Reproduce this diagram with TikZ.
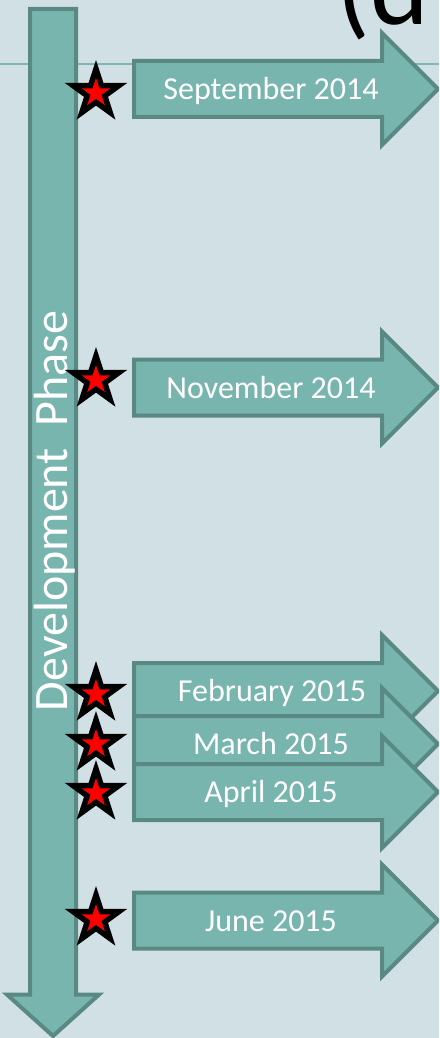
\documentclass[tikz,border=0pt]{standalone}
\usepackage{fontspec}
\setmainfont{Carlito}
\usepackage{tikz}
\usetikzlibrary{shapes.arrows, shapes.geometric}
\definecolor{bg}{RGB}{209,224,228}
\definecolor{tealfill}{RGB}{120,181,175}
\definecolor{tealedge}{RGB}{90,137,131}
\definecolor{rule}{RGB}{125,183,178}
\tikzstyle{month} = [single arrow, fill=tealfill, draw=tealedge, line width=4pt, inner sep=26pt, single arrow head extend=28pt, single arrow tip angle=90, minimum height=304pt, anchor=tail]
\tikzstyle{phase} = [single arrow, shape border rotate=270, fill=tealfill, draw=tealedge, line width=4pt, inner sep=21pt, single arrow head extend=23pt, single arrow tip angle=96, minimum height=1027pt, anchor=tail]
\tikzstyle{date}=[text=white, font=\fontsize{32}{38}\selectfont, anchor=base, inner sep=0pt]
\tikzstyle{starmark}=[star, star points=5, star point ratio=2.618, inner sep=0pt, fill=black, minimum size=66pt]
\tikzstyle{starin}=[star, star points=5, star point ratio=2.618, inner sep=0pt, fill=red, minimum size=30pt]

\begin{document}
\begin{tikzpicture}[x=1pt, y=-1pt]
		\clip (0,0) rectangle (439,1038);
		\fill[bg] (0,0) rectangle (439,1038);
		\node[anchor=base west, inner sep=0pt, font=\fontsize{112}{120}\selectfont] (title) at (336,25) {(d};
		\coordinate (rl) at (0,64);
		\coordinate (rr) at (439,64);
		\draw[rule, line width=2pt] (rl) -- (rr);
		\node[phase] (bar) at (53,7) {};
		\node[rotate=90, text=white, font=\fontsize{48}{56}\selectfont, inner sep=0pt] (dev) at (55,511) {Development\ \ Phase};
		\node[month] (sep) at (132,89) {};
		\node[date] at (271,100) {September 2014};
		\node[month] (nov) at (132,387.5) {};
		\node[date] at (271,398) {November 2014};
		\node[month] (feb) at (132,691) {};
		\node[date] at (272,701) {February 2015};
		\node[month] (mar) at (132,744) {};
		\node[date] at (271,754) {March 2015};
		\node[month] (apr) at (132,792) {};
		\node[date] at (271,802) {April 2015};
		\node[month] (jun) at (132,920.5) {};
		\node[date] at (271,931) {June 2015};
		% stars
		\node[starmark] (s1) at (96,93) {};
		\node[starin] at (s1) {};
		\node[starmark] (s2) at (96,380) {};
		\node[starin] at (s2) {};
		\node[starmark] (s3) at (96,694) {};
		\node[starin] at (s3) {};
		\node[starmark] (s4) at (96,744) {};
		\node[starin] at (s4) {};
		\node[starmark] (s5) at (96,793) {};
		\node[starin] at (s5) {};
		\node[starmark] (s6) at (96,919) {};
		\node[starin] at (s6) {};
	\end{tikzpicture}
\end{document}
